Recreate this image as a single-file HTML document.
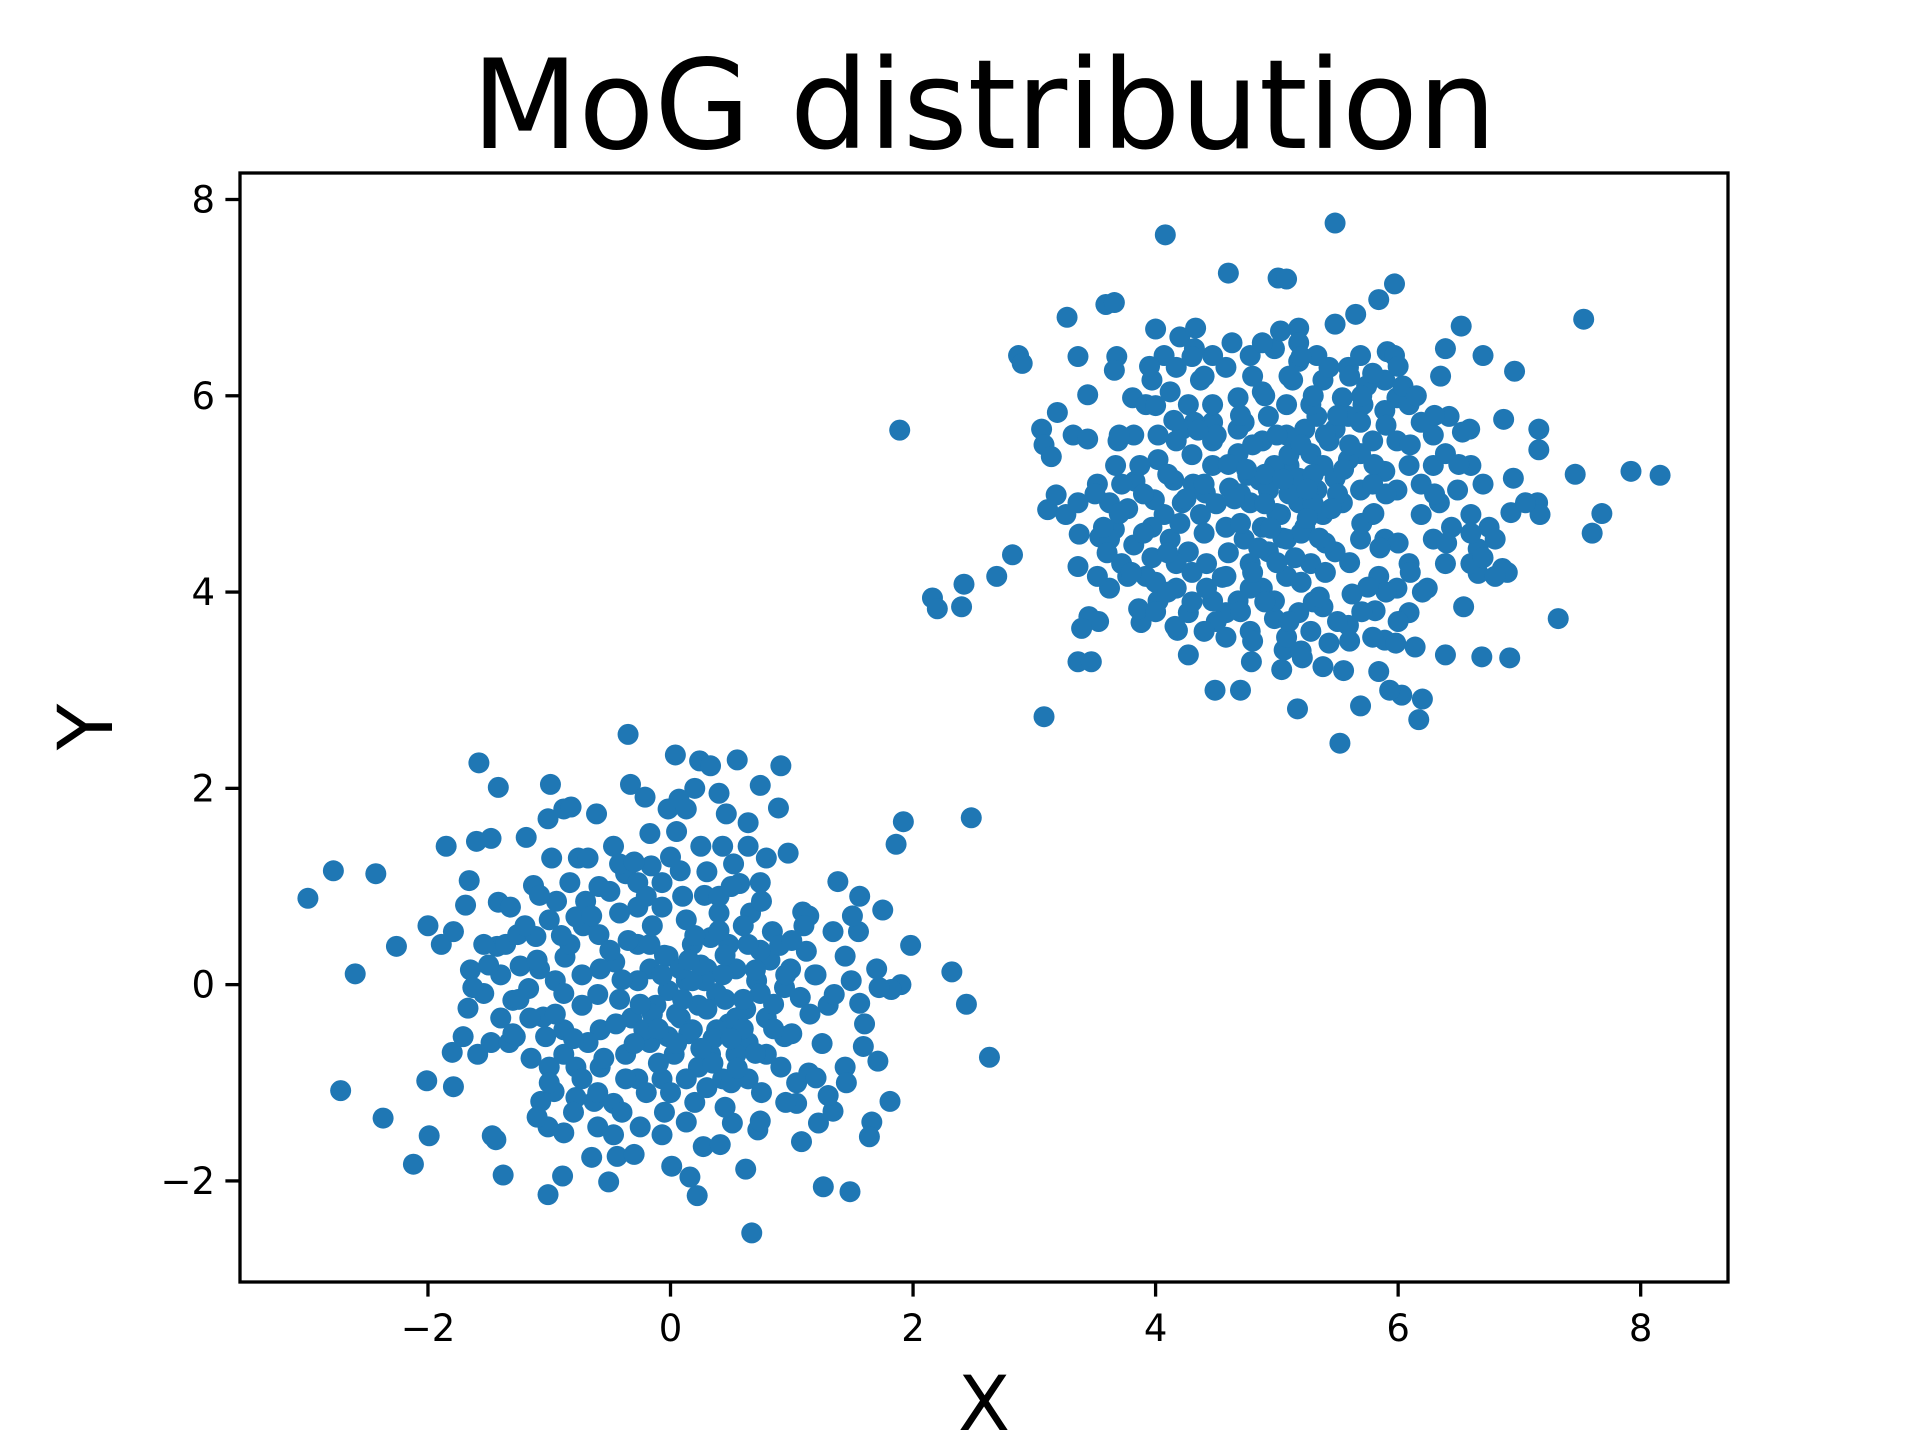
<!DOCTYPE html>
<html><head><meta charset="utf-8"><style>
html,body{margin:0;padding:0;background:#fff;}
svg{display:block;font-family:"DejaVu Sans","Liberation Sans",sans-serif;}
</style></head>
<body>
<svg id="chart" width="1920" height="1440" viewBox="0 0 1920 1440" xmlns="http://www.w3.org/2000/svg">
<rect width="1920" height="1440" fill="#fff"/>
<text x="984" y="148" text-anchor="middle" font-size="124" fill="#000">MoG distribution</text>
<g id="points"></g>
<g id="axes"></g>
<text x="984" y="1430" text-anchor="middle" font-size="76" fill="#000">X</text>
<text x="112" y="727" text-anchor="middle" font-size="76" fill="#000" transform="rotate(-90 112 727)">Y</text>
</svg>
<script>
const xTicks=[-2,0,2,4,6,8];
const yTicks=[-2,0,2,4,6,8];
const xTickLabels=["−2","0","2","4","6","8"];
const yTickLabels=["−2","0","2","4","6","8"];
const cluster1=[[-2.99,0.88],[-2.78,1.16],[-2.43,1.13],[-2.60,0.11],[-2.26,0.39],[-2.72,-1.08],[-2.37,-1.36],[-2.12,-1.83],[-1.99,-1.54],[-2.01,-0.98],[-2.00,0.60],[-1.85,1.41],[-1.79,-1.04],[-1.80,-0.69],[-1.58,2.26],[-1.42,2.01],[-1.38,-1.94],[-1.44,-1.58],[-1.47,-1.54],[-1.60,1.46],[-1.48,1.49],[-1.66,1.06],[-1.69,0.81],[-1.65,0.15],[-1.43,0.39],[-1.19,1.50],[-1.13,1.01],[-0.99,2.04],[-1.01,1.69],[-0.88,1.79],[-0.82,1.81],[-1.01,-2.14],[-0.89,-1.95],[-0.51,-2.01],[-0.35,2.55],[0.04,2.34],[-0.33,2.04],[0.24,2.28],[0.33,2.23],[0.55,2.29],[0.40,1.95],[0.74,2.03],[0.91,2.23],[0.89,1.80],[0.64,1.65],[0.46,1.74],[-0.21,1.91],[0.07,1.89],[0.20,2.00],[-0.61,1.74],[-0.76,1.29],[0.97,1.34],[1.38,1.05],[1.56,0.90],[1.75,0.76],[1.86,1.43],[1.92,1.66],[2.48,1.70],[2.32,0.13],[2.44,-0.20],[2.63,-0.74],[1.98,0.40],[1.90,0.00],[1.82,-0.05],[1.72,-0.03],[1.81,-1.19],[1.66,-1.40],[1.64,-1.55],[1.71,-0.78],[1.59,-0.63],[1.26,-2.06],[1.48,-2.11],[1.08,-1.60],[1.22,-1.41],[0.67,-2.53],[0.62,-1.88],[0.22,-2.15],[0.16,-1.96],[0.01,-1.85],[0.27,-1.65],[0.41,-1.63],[0.72,-1.48],[0.74,-1.39],[-0.65,-1.76],[-0.44,-1.75],[-0.30,-1.73],[-0.88,-1.51],[-1.01,-1.45],[-1.07,-1.19],[-0.63,-1.19],[-0.47,-1.53],[-0.07,-1.53],[0.13,-1.40],[0.51,-1.41],[1.04,-1.21],[1.34,-1.29],[1.30,-1.13],[1.04,-1.00],[1.44,-0.84],[1.56,-0.19],[1.49,0.04],[1.30,-0.21],[1.07,-0.13],[1.12,0.34],[1.14,0.70],[1.09,0.74],[0.74,1.04],[0.82,0.25],[0.71,0.04],[0.62,-0.25],[0.30,0.16],[0.40,0.73],[0.57,1.03],[0.52,1.23],[0.25,1.41],[0.05,1.56],[-0.16,1.21],[-0.37,1.13],[-0.59,1.00],[-0.72,0.60],[-0.87,0.28],[-0.95,0.04],[-1.05,-0.33],[-1.17,-0.04],[-1.24,0.19],[-1.36,0.41],[-1.26,0.51],[-1.42,0.84],[-1.32,0.79],[-1.11,0.49],[-0.94,0.85],[-0.78,0.69],[-0.59,0.51],[-0.46,0.23],[-0.27,0.41],[-0.17,0.16],[-0.02,-0.06],[0.13,0.04],[0.23,-0.21],[0.38,-0.09],[0.48,-0.40],[0.64,-0.59],[0.79,-0.71],[0.94,-0.53],[0.91,-0.84],[1.14,-0.90],[0.64,-0.96],[0.43,-0.96],[0.23,-0.84],[0.03,-0.71],[-0.17,-0.59],[-0.37,-0.71],[-0.58,-0.46],[-0.73,-0.21],[-0.88,-0.71],[-1.00,-0.84],[-1.03,-0.53],[-1.28,-0.53],[-1.40,-0.34],[-1.48,-0.59],[-1.54,-0.09],[-1.63,-0.03],[-1.67,-0.24],[-1.71,-0.53],[-0.96,-1.09],[-0.78,-1.15],[-0.47,-1.21],[-0.27,-0.96],[-0.07,-0.96],[0.13,-0.96],[0.33,-0.71],[0.54,-0.71],[0.79,-0.34],[0.99,0.16],[0.74,0.35],[0.48,0.41],[0.33,0.48],[0.13,0.66],[-0.07,0.79],[-0.27,0.79],[-0.42,0.73],[-0.58,0.16],[-0.73,0.10],[-0.88,-0.09],[-0.42,-0.15],[-0.27,0.04],[-0.12,-0.21],[0.08,-0.34],[-0.02,0.29],[0.18,0.41],[-0.27,1.04],[-0.07,1.04],[0.08,1.16],[0.28,0.91],[0.66,0.73],[0.84,0.54],[0.64,0.41],[0.54,0.16],[0.43,0.10],[0.28,0.04],[0.18,0.04],[0.08,0.16],[-0.07,0.10],[-0.17,0.41],[-0.32,-0.34],[-0.22,-0.46],[-0.02,-0.53],[0.18,-0.46],[0.38,-0.46],[0.54,-0.34],[0.74,-0.09],[0.94,-0.03],[-0.37,-0.96],[-0.58,-0.84],[-0.78,-0.84],[-0.88,-0.46],[-0.68,-0.59],[-0.73,-0.96],[1.34,0.54],[1.19,0.10],[1.44,0.29],[1.55,0.54],[1.70,0.16],[-0.17,1.54],[-0.02,1.79],[0.13,1.79],[0.43,1.41],[0.64,1.41],[0.79,1.29],[-0.47,1.41],[-0.68,1.29],[-0.42,1.23],[-0.83,1.04],[-0.98,1.29],[-1.08,0.91],[-1.00,0.66],[-0.83,0.41],[-1.08,0.16],[-1.16,-0.34],[-1.33,-0.59],[-1.30,-0.16],[-1.54,0.41],[-1.89,0.41],[-1.79,0.54],[-1.59,-0.71]];
const cluster1Core=[[0.05,-0.3],[0.15,-0.5],[0.3,-0.25],[0.45,-0.15],[0.6,-0.45],[0.25,0.2],[-0.1,-0.8],[0.0,-1.1],[0.2,-1.2],[0.35,-0.8],[0.5,-1.0],[0.7,-0.7],[0.85,-0.2],[1.0,-0.5],[1.15,-0.3],[1.25,-0.6],[0.9,0.4],[0.6,0.6],[0.4,0.9],[0.1,0.9],[-0.15,0.6],[-0.35,0.45],[-0.5,0.35],[-0.6,-0.1],[-0.45,-0.4],[-0.3,-0.6],[-0.15,-0.3],[-0.05,0.3],[0.2,0.5],[0.45,0.3],[0.7,0.15],[0.85,-0.45],[0.55,-0.85],[0.3,-1.05],[0.05,-0.6],[-0.2,-1.1],[-0.4,-1.3],[-0.6,-1.1],[-0.8,-1.3],[-1.0,-1.0],[-1.15,-0.75],[-1.25,-0.15],[-1.4,0.1],[-1.1,0.25],[-0.9,0.5],[-0.7,0.85],[-0.5,0.95],[-0.3,1.25],[0.0,1.3],[0.3,1.15],[0.5,1.0],[0.75,0.85],[1.0,0.45],[1.2,0.1],[1.35,-0.1],[1.2,-0.95],[0.95,-1.2],[0.75,-1.1],[0.45,-1.25],[-0.05,-1.3],[-0.25,-1.45],[-0.6,-1.45],[-0.95,-0.3],[-0.8,-0.55],[-0.55,-0.75],[-0.25,-0.2],[0.35,-0.55],[0.6,-0.15],[0.15,0.25],[-0.4,0.05],[0.95,0.1],[1.1,0.6],[0.25,-0.65],[0.5,-0.55],[-0.1,-0.45],[0.1,-0.15],[0.4,0.55],[-0.2,0.9],[-0.65,0.7],[-1.2,0.6],[-1.5,0.2],[-1.3,-0.5],[-1.1,-1.35],[1.5,0.7],[1.6,-0.4],[1.45,-1.0]];
const cluster2=[[4.08,7.64],[5.48,7.76],[4.60,7.25],[5.01,7.20],[5.08,7.19],[5.97,7.14],[5.84,6.98],[5.65,6.83],[6.52,6.71],[7.53,6.78],[3.27,6.80],[3.59,6.93],[3.66,6.95],[4.00,6.68],[4.20,6.60],[4.33,6.69],[2.87,6.41],[2.90,6.33],[3.36,6.40],[3.68,6.40],[3.66,6.26],[5.18,6.69],[5.48,6.73],[6.39,6.48],[6.70,6.41],[6.96,6.25],[5.91,6.45],[5.97,6.41],[3.44,6.01],[3.19,5.83],[3.06,5.66],[3.08,5.50],[3.14,5.38],[3.32,5.60],[3.44,5.56],[3.69,5.54],[3.81,5.98],[1.89,5.65],[6.29,5.60],[6.42,5.79],[6.53,5.63],[6.59,5.66],[6.87,5.76],[7.16,5.66],[7.16,5.45],[7.46,5.20],[7.92,5.23],[8.16,5.19],[7.68,4.80],[7.60,4.60],[7.32,3.73],[7.15,4.91],[7.17,4.79],[6.93,4.81],[6.86,4.24],[6.90,4.20],[6.66,4.44],[6.54,3.85],[6.66,4.19],[6.92,3.33],[6.69,3.34],[6.39,3.36],[6.20,2.91],[6.17,2.70],[6.03,2.95],[5.93,3.00],[5.84,3.19],[5.89,3.51],[5.98,3.48],[6.14,3.44],[5.81,3.81],[5.62,3.98],[5.52,2.46],[5.17,2.81],[5.69,2.84],[5.55,3.20],[5.38,3.24],[5.21,3.33],[5.04,3.21],[5.06,3.41],[4.79,3.29],[4.70,3.00],[4.49,3.00],[4.27,3.36],[4.18,3.61],[4.16,3.65],[3.88,3.69],[3.86,3.83],[3.45,3.75],[3.53,3.70],[3.36,3.29],[3.47,3.29],[3.39,3.63],[3.08,2.73],[2.82,4.38],[2.69,4.16],[2.42,4.08],[2.40,3.85],[2.16,3.94],[2.20,3.83],[3.11,4.84],[3.18,4.99],[3.37,4.59],[3.36,4.26],[3.54,4.56],[3.66,4.64],[3.83,5.13],[3.99,4.94],[4.15,5.14],[4.31,5.10],[4.41,5.01],[4.61,5.06],[4.76,5.19],[4.86,5.14],[5.10,5.29],[5.28,5.41],[5.43,5.54],[5.59,5.79],[5.71,5.91],[5.79,5.54],[5.99,5.04],[6.19,4.79],[6.29,4.54],[6.09,4.29],[5.89,4.54],[5.79,4.79],[5.69,5.04],[5.54,4.91],[5.38,4.79],[5.23,4.66],[5.08,4.54],[4.93,4.41],[4.78,4.29],[4.58,4.16],[4.42,4.29],[4.27,4.41],[4.12,4.54],[3.97,4.66],[3.82,4.48],[3.72,4.29],[3.62,4.04],[3.92,4.16],[4.17,4.04],[4.47,3.91],[4.68,3.91],[4.88,4.04],[5.08,4.16],[5.28,4.29],[5.48,4.41],[5.69,4.54],[5.84,4.16],[5.99,4.04],[5.18,3.79],[5.38,3.85],[4.98,3.73],[4.78,3.60],[4.58,3.79],[4.37,4.79],[4.58,4.66],[4.73,4.54],[4.88,4.66],[5.03,4.79],[5.18,4.91],[5.33,5.04],[5.48,5.16],[5.18,5.16],[4.98,5.29],[4.88,5.54],[4.68,5.66],[4.47,5.73],[4.27,5.91],[4.12,6.04],[3.97,6.16],[4.17,6.29],[4.37,6.16],[4.58,6.29],[4.78,6.41],[4.98,6.48],[5.18,6.35],[5.38,6.16],[5.59,6.29],[5.74,6.10],[5.89,6.16],[5.99,5.98],[6.09,5.91],[6.19,5.73],[6.09,5.29],[5.89,5.23],[5.69,5.41],[5.48,5.66],[5.33,5.79],[5.08,5.91],[4.88,6.04],[4.68,5.98],[4.47,5.91],[4.32,5.73],[4.17,5.54],[4.02,5.35],[3.87,5.29],[3.72,5.10],[3.62,4.91],[3.77,4.85],[4.07,4.79],[4.22,4.91],[4.47,5.29],[4.68,5.41],[4.78,4.91],[4.93,5.04],[5.08,5.60],[5.23,5.66],[5.38,5.29],[5.59,5.35],[5.79,5.10],[5.99,5.54],[6.19,5.10],[6.34,4.91],[6.44,4.66],[6.49,5.04],[6.60,4.79],[6.75,4.66],[6.80,4.16],[6.60,4.29],[6.39,4.29],[6.24,4.04],[6.09,3.79],[5.79,3.54],[5.59,3.66],[5.43,3.48],[5.28,3.60],[5.08,3.54],[4.98,3.91],[4.78,4.04],[4.58,3.54],[4.42,4.04],[4.17,4.29],[3.97,4.35],[3.77,4.16],[4.02,3.91],[4.27,3.79],[3.52,4.16],[3.62,4.54],[3.67,5.29],[3.52,5.10],[3.36,4.91],[3.26,4.79],[3.57,4.66],[5.89,5.85],[5.69,5.73],[5.54,5.98],[5.33,6.41],[5.18,6.54],[5.03,6.66],[4.88,6.54],[4.63,6.54],[4.47,6.41],[4.32,6.48],[4.07,6.41],[3.92,5.91],[3.82,5.60],[4.02,5.60],[4.22,5.66],[4.47,5.54],[4.73,5.73],[4.93,5.79],[5.13,6.16],[5.28,5.91],[5.43,6.29],[5.69,6.41],[5.79,6.23],[6.04,6.10],[6.29,5.29],[6.39,5.41],[6.60,5.29],[6.70,5.10],[6.95,5.16],[7.05,4.91],[6.80,4.54],[6.70,4.35]];
const cluster2Core=[[5.0,4.8],[5.2,4.6],[5.4,4.5],[5.3,4.9],[5.1,5.0],[4.9,4.9],[4.7,4.7],[4.6,4.4],[4.8,4.2],[5.0,4.3],[5.2,4.1],[5.4,4.2],[5.6,4.3],[5.7,4.7],[5.5,5.0],[5.3,5.2],[5.1,5.4],[4.9,5.2],[4.7,5.0],[4.5,4.9],[4.4,4.6],[4.3,4.2],[4.1,4.4],[4.0,4.1],[3.9,4.6],[4.2,4.7],[4.4,5.1],[4.6,5.3],[4.8,5.5],[5.0,5.6],[5.2,5.5],[5.4,5.6],[5.6,5.5],[5.8,5.3],[5.9,5.0],[5.8,4.8],[6.0,4.5],[6.1,4.2],[5.9,4.0],[5.7,3.8],[5.5,3.7],[5.3,3.9],[5.1,3.7],[4.9,3.9],[4.7,3.8],[4.5,3.7],[4.3,3.9],[4.1,4.0],[3.8,4.2],[3.7,4.8],[3.9,5.0],[4.1,5.2],[4.3,5.4],[4.5,5.6],[4.7,5.8],[4.9,6.0],[5.1,6.2],[5.3,6.0],[5.5,5.8],[5.7,6.0],[5.9,5.7],[6.1,5.5],[6.3,5.0],[6.4,4.5],[6.2,4.0],[6.0,3.7],[5.6,3.5],[5.2,3.4],[4.8,3.5],[4.4,3.6],[4.0,3.8],[3.6,4.4],[3.5,5.0],[3.7,5.6],[4.0,5.9],[4.4,6.2],[4.8,6.2],[5.2,6.4],[5.6,6.2],[6.0,6.3],[6.3,5.8],[6.5,5.3],[6.6,4.6],[5.05,4.55],[5.25,4.75],[5.15,4.35],[4.95,4.65],[5.35,4.55],[5.45,4.85],[4.85,4.45],[4.65,4.95],[5.05,5.15],[5.25,5.05],[5.55,5.25],[4.75,5.25],[4.55,4.15],[5.35,3.95],[5.75,4.05],[5.85,4.45],[4.25,4.95],[4.35,5.65],[4.15,5.75],[6.15,6.0],[6.35,6.2],[3.95,6.3],[4.3,6.4]];

const NS="http://www.w3.org/2000/svg";
const AX={l:240,t:173,w:1488,h:1109};
const XMIN=-3.55,XMAX=8.72,YMIN=-3.03,YMAX=8.27;
function xs(v){return AX.l+(v-XMIN)/(XMAX-XMIN)*AX.w;}
function ys(v){return AX.t+(YMAX-v)/(YMAX-YMIN)*AX.h;}
function mk(tag,attrs){const e=document.createElementNS(NS,tag);for(const k in attrs)e.setAttribute(k,attrs[k]);return e;}

const pg=document.getElementById('points');
cluster1.concat(cluster1Core,cluster2,cluster2Core).forEach(p=>{
  const c=mk('circle',{cx:xs(p[0]),cy:ys(p[1]),r:10.5,fill:'#1f77b4'});
  
  
  pg.appendChild(c);
});

const ag=document.getElementById('axes');
const frame=mk('rect',{x:AX.l,y:AX.t,width:AX.w,height:AX.h,fill:'none',stroke:'#000','stroke-width':3.3});


ag.appendChild(frame);
xTicks.forEach((v,i)=>{
  const x=xs(v),y0=AX.t+AX.h;
  const t=mk('line',{x1:x,x2:x,y1:y0,y2:y0+14.6,stroke:'#000','stroke-width':3.3});
  
  
  ag.appendChild(t);
  const lb=mk('text',{x:x,y:y0+59,'text-anchor':'middle','font-size':37,fill:'#000'});
  lb.textContent=xTickLabels[i];
  
  
  ag.appendChild(lb);
});
yTicks.forEach((v,i)=>{
  const y=ys(v);
  const t=mk('line',{x1:AX.l-14.6,x2:AX.l,y1:y,y2:y,stroke:'#000','stroke-width':3.3});
  
  
  ag.appendChild(t);
  const lb=mk('text',{x:AX.l-25,y:y+13,'text-anchor':'end','font-size':37,fill:'#000'});
  lb.textContent=yTickLabels[i];
  
  
  ag.appendChild(lb);
});
</script>
</body></html>
